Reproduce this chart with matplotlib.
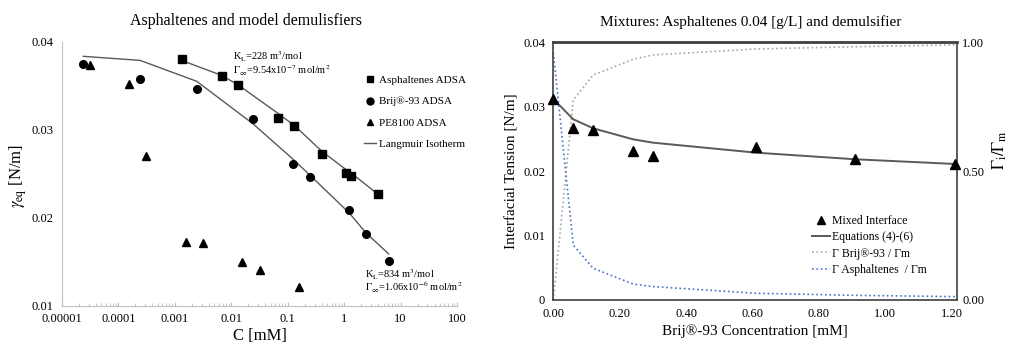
import matplotlib
matplotlib.use('Agg')
import matplotlib.pyplot as plt
from matplotlib.lines import Line2D

plt.rcParams['font.family'] = ['Liberation Serif', 'DejaVu Serif']
plt.rcParams['mathtext.fontset'] = 'stix'

# ---- left panel data: equilibrium tension vs concentration ----
asph_c = [0.00133, 0.0068, 0.0134, 0.067, 0.132, 0.40, 1.08, 1.34, 3.98]
asph_g = [0.0381, 0.0361, 0.0351, 0.03135, 0.0304, 0.0273, 0.0251, 0.0248, 0.0227]
asph_fit = [0.0379, 0.0362, 0.0351, 0.0319, 0.0305, 0.0276, 0.0255, 0.0251, 0.0227]

brij_c = [2.39e-5, 2.42e-4, 0.00245, 0.0242, 0.124, 0.244, 1.24, 2.47, 6.15]
brij_g = [0.03753, 0.03579, 0.03465, 0.03128, 0.02616, 0.02464, 0.02093, 0.01816, 0.01516]
brij_fit = [0.03837, 0.03791, 0.03553, 0.03071, 0.02669, 0.02491, 0.02055, 0.01827, 0.01592]

pe_c = [3.14e-5, 1.57e-4, 3.09e-4, 0.00156, 0.00313, 0.0158, 0.0317, 0.160]
pe_g = [0.03742, 0.03522, 0.02699, 0.01732, 0.01721, 0.01505, 0.01410, 0.01213]

log_ticks = [1e-5, 1e-4, 1e-3, 1e-2, 1e-1, 1, 10, 100]
log_labels = ['0.00001', '0.0001', '0.001', '0.01', '0.1', '1', '10', '100']
gam_ticks = [0.01, 0.02, 0.03, 0.04]
gam_labels = ['0.01', '0.02', '0.03', '0.04']

# ---- right panel data: mixtures ----
mix_c = [0.0, 0.06, 0.12, 0.24, 0.30, 0.61, 0.91, 1.21]
mix_ift = [0.0312, 0.02665, 0.02639, 0.02313, 0.02235, 0.02380, 0.02184, 0.02111]
eq_ift = [0.0312, 0.02805, 0.02665, 0.02494, 0.02442, 0.02287, 0.02184, 0.02111]
brij_frac = [0.0, 0.776, 0.873, 0.934, 0.951, 0.974, 0.983, 0.990]
asph_frac = [0.96, 0.213, 0.123, 0.062, 0.052, 0.026, 0.018, 0.013]

mix_xticks = [0.0, 0.2, 0.4, 0.6, 0.8, 1.0, 1.2]
mix_xlabels = ['0.00', '0.20', '0.40', '0.60', '0.80', '1.00', '1.20']
ift_ticks = [0, 0.01, 0.02, 0.03, 0.04]
ift_labels = ['0', '0.01', '0.02', '0.03', '0.04']
frac_ticks = [0, 0.5, 1.0]
frac_labels = ['0.00', '0.50', '1.00']

W, H = 1009, 343
fig = plt.figure(figsize=(W / 100, H / 100), dpi=100)

# left chart
ax1 = fig.add_axes([0.0614, 0.1079, 0.3915, 0.7697])
ax1.plot(asph_c, asph_fit, '-', color='#595959', lw=1.0)
ax1.plot(brij_c, brij_fit, '-', color='#595959', lw=1.0)
ax1.plot(asph_c, asph_g, 's', color='black', ms=5.5, ls='none')
ax1.plot(brij_c, brij_g, 'o', color='black', ms=5.5, ls='none')
ax1.plot(pe_c, pe_g, '^', color='black', ms=5.5, ls='none')
ax1.set_xscale('log')
ax1.set_xlim(1e-5, 100)
ax1.set_ylim(0.01, 0.04)
ax1.set_xticks(log_ticks)
ax1.set_xticklabels(log_labels)
ax1.set_yticks(gam_ticks)
ax1.set_yticklabels(gam_labels)
for s in ['top', 'right']:
    ax1.spines[s].set_visible(False)
for s in ['left', 'bottom']:
    ax1.spines[s].set_color('#BFBFBF')
ax1.tick_params(axis='x', which='both', direction='in', colors='#BFBFBF',
                labelcolor='black', labelsize=9, length=3, pad=5)
ax1.tick_params(axis='x', which='minor', length=2)
ax1.tick_params(axis='y', length=0, labelsize=9, pad=6)
ax1.set_title('Asphaltenes and model demulisfiers', fontsize=11.5, x=0.465, pad=12)
ax1.set_xlabel('C [mM]', fontsize=12)
ax1.xaxis.set_label_coords(0.5, -0.085)
fig.text(18 / W, 1 - 176 / H, r'$\gamma_{\rm eq}$ [N/m]', fontsize=12, rotation=90,
         ha='center', va='center')

# fit parameters written beside each isotherm
ax1.text(0.0107, 0.03828, r'K$_\mathrm{L}$=228 m$^3$/mol', fontsize=7.5, va='center')
ax1.text(0.0107, 0.03672, r'$\Gamma_\infty$=9.54x10$^{-7}$ mol/m$^2$', fontsize=7.5, va='center')
ax1.text(2.34, 0.0136, r'K$_\mathrm{L}$=834 m$^3$/mol', fontsize=7.5, va='center')
ax1.text(2.34, 0.01206, r'$\Gamma_\infty$=1.06x10$^{-6}$ mol/m$^2$', fontsize=7.5, va='center')

h1 = [Line2D([], [], marker='s', color='black', ls='none', ms=5),
      Line2D([], [], marker='o', color='black', ls='none', ms=5),
      Line2D([], [], marker='^', color='black', ls='none', ms=5),
      Line2D([], [], color='#595959', lw=1.0)]
ax1.legend(h1, ['Asphaltenes ADSA', 'Brij®-93 ADSA', 'PE8100 ADSA', 'Langmuir Isotherm'],
           loc='upper left', bbox_to_anchor=(0.753, 0.89), frameon=False, fontsize=8,
           handlelength=1.1, handletextpad=0.3, labelspacing=1.03, borderaxespad=0)

# right chart
ax2 = fig.add_axes([0.5484, 0.1254, 0.3998, 0.7513])
ax2.plot(mix_c, eq_ift, '-', color='#595959', lw=1.4, zorder=3)
ax2.plot(mix_c, mix_ift, '^', color='black', ms=7, ls='none', zorder=4, clip_on=False)
ax2.set_xlim(0, 1.215)
ax2.set_ylim(0, 0.04)
ax2.set_xticks(mix_xticks)
ax2.set_xticklabels(mix_xlabels)
ax2.set_yticks(ift_ticks)
ax2.set_yticklabels(ift_labels)
ax2.tick_params(labelsize=9, length=0, pad=6)
for s in ax2.spines.values():
    s.set_color('#404040')
    s.set_linewidth(1.2)
ax2.spines['top'].set_linewidth(2)
ax2.set_title('Mixtures: Asphaltenes 0.04 [g/L] and demulsifier', fontsize=11, x=0.489, pad=12)
ax2.set_xlabel('Brij®-93 Concentration [mM]', fontsize=11)
ax2.xaxis.set_label_coords(0.5, -0.095)
fig.text(512 / W, 1 - 171 / H, 'Interfacial Tension [N/m]', fontsize=11, rotation=90,
         ha='center', va='center')

ax3 = ax2.twinx()
ax3.plot(mix_c, brij_frac, ':', color='#A6A6A6', lw=1.2)
ax3.plot(mix_c, asph_frac, ':', color='#4472C4', lw=1.2)
ax3.set_ylim(0, 1)
ax3.set_yticks(frac_ticks)
ax3.set_yticklabels(frac_labels)
ax3.tick_params(labelsize=9, length=0, pad=4)
for s in ax3.spines.values():
    s.set_visible(False)
ax2.set_zorder(ax3.get_zorder() + 1)
ax2.patch.set_visible(False)
fig.text(1000 / W, 1 - 150 / H, r'$\Gamma_{\rm i}/\Gamma_{\rm m}$', fontsize=12, rotation=90,
         ha='center', va='center')

h2 = [Line2D([], [], marker='^', color='black', ls='none', ms=6),
      Line2D([], [], color='#595959', lw=1.4),
      Line2D([], [], color='#A6A6A6', lw=1.2, ls=':'),
      Line2D([], [], color='#4472C4', lw=1.2, ls=':')]
ax2.legend(h2, ['Mixed Interface', 'Equations (4)-(6)', 'Γ Brij®-93 / Γm', 'Γ Asphaltenes  / Γm'],
           loc='upper left', bbox_to_anchor=(0.63, 0.347), frameon=False, fontsize=8.5,
           handlelength=1.5, handletextpad=0.15, labelspacing=0.35, borderaxespad=0)

fig.savefig('out.png', dpi=100)
